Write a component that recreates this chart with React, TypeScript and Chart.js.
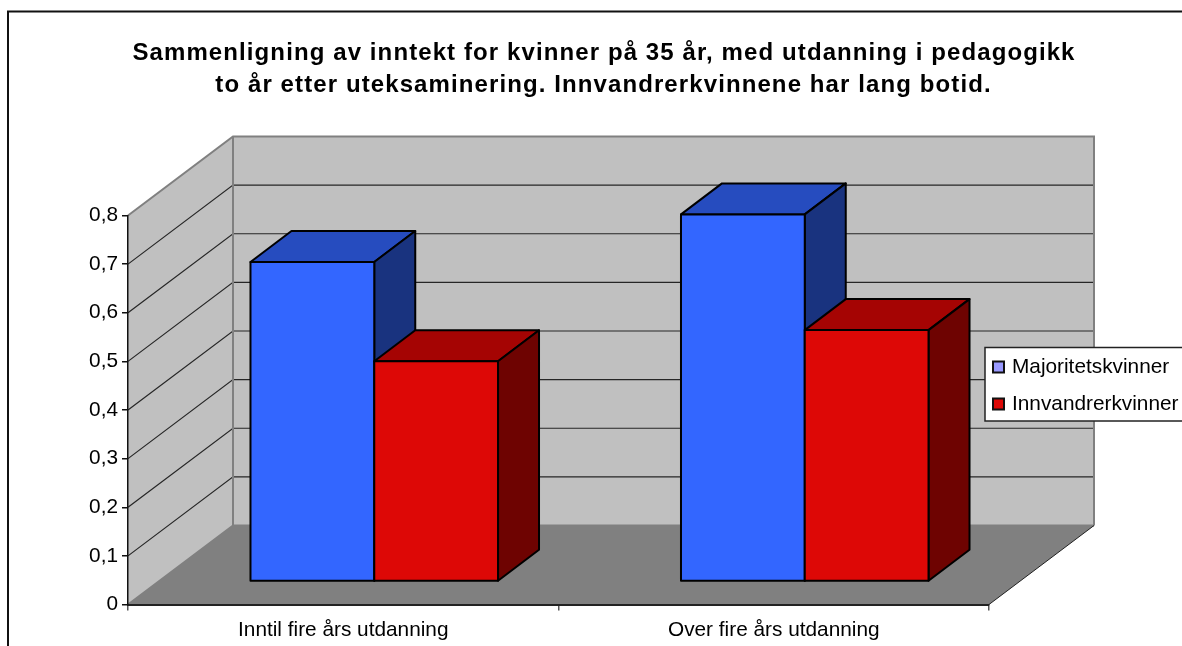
import React, { useEffect, useRef } from "react";
import { Chart, registerables } from "chart.js";

Chart.register(...registerables);

const categories = ["Inntil fire års utdanning", "Over fire års utdanning"];
const seriesNames = ["Majoritetskvinner", "Innvandrerkvinner"];
const majoritet = [0.657, 0.755];
const innvandrer = [0.453, 0.517];
const yTicksMax = 0.8;
const yStep = 0.1;
const titleLines = [
  "Sammenligning av inntekt for kvinner på 35 år, med utdanning i pedagogikk",
  "to år etter uteksaminering. Innvandrerkvinnene har lang botid.",
];

const FONT = '"Liberation Sans", Arial, sans-serif';
const faces = [
  { front: "#3366FF", top: "#264CBF", side: "#19337F", swatch: "#9999FF" },
  { front: "#DD0806", top: "#A50403", side: "#6E0301", swatch: "#DD0806" },
];
const DEPTH = { dx: 105, dy: -79 };
const BAR_NEAR = { dx: 31, dy: -23 };
const BAR_DEPTH = { dx: 41, dy: -31 };

const poly = (ctx: CanvasRenderingContext2D, pts: number[][], fill?: string, stroke?: string, lw = 1) => {
  ctx.beginPath();
  pts.forEach((p, i) => (i ? ctx.lineTo(p[0], p[1]) : ctx.moveTo(p[0], p[1])));
  ctx.closePath();
  if (fill) {
    ctx.fillStyle = fill;
    ctx.fill();
  }
  if (stroke) {
    ctx.strokeStyle = stroke;
    ctx.lineWidth = lw;
    ctx.lineJoin = "round";
    ctx.stroke();
  }
};

const scenePlugin = {
  id: "scene3d",
  beforeDraw(chart: any) {
    const { ctx, chartArea: a, scales } = chart;
    const { dx, dy } = DEPTH;
    ctx.save();
    ctx.fillStyle = "#FFFFFF";
    ctx.fillRect(0, 0, chart.width, chart.height);
    ctx.strokeStyle = "#111111";
    ctx.lineWidth = 2;
    ctx.strokeRect(8, 11.5, 1400, 900);

    // walls
    poly(ctx, [[a.left + dx, a.top + dy], [a.right + dx, a.top + dy], [a.right + dx, a.bottom + dy], [a.left + dx, a.bottom + dy]], "#C0C0C0");
    poly(ctx, [[a.left, a.top], [a.left + dx, a.top + dy], [a.left + dx, a.bottom + dy], [a.left, a.bottom]], "#C0C0C0");
    // grid lines
    ctx.strokeStyle = "#262626";
    ctx.lineWidth = 1.2;
    scales.y.ticks.forEach((t: any) => {
      if (t.value <= 0 || t.value >= yTicksMax) return;
      const y = scales.y.getPixelForValue(t.value);
      ctx.beginPath();
      ctx.moveTo(a.left, y);
      ctx.lineTo(a.left + dx, y + dy);
      ctx.lineTo(a.right + dx, y + dy);
      ctx.stroke();
    });
    // floor
    poly(ctx, [[a.left, a.bottom], [a.left + dx, a.bottom + dy], [a.right + dx, a.bottom + dy], [a.right, a.bottom]], "#808080");
    // wall edges
    ctx.strokeStyle = "#808080";
    ctx.lineWidth = 2;
    ctx.beginPath();
    ctx.moveTo(a.left, a.top);
    ctx.lineTo(a.left + dx, a.top + dy);
    ctx.lineTo(a.right + dx, a.top + dy);
    ctx.lineTo(a.right + dx, a.bottom + dy);
    ctx.moveTo(a.left + dx, a.top + dy);
    ctx.lineTo(a.left + dx, a.bottom + dy);
    ctx.lineTo(a.right + dx, a.bottom + dy);
    ctx.moveTo(a.left, a.bottom);
    ctx.lineTo(a.left + dx, a.bottom + dy);
    ctx.stroke();
    ctx.strokeStyle = "#222222";
    ctx.lineWidth = 1;
    ctx.beginPath();
    ctx.moveTo(a.right, a.bottom);
    ctx.lineTo(a.right + dx, a.bottom + dy);
    ctx.stroke();
    ctx.restore();
  },
  beforeDatasetDraw() {
    return false;
  },
  afterDatasetsDraw(chart: any) {
    const { ctx } = chart;
    ctx.save();
    categories.forEach((_, c) => {
      chart.data.datasets.forEach((ds: any, s: number) => {
        const el = chart.getDatasetMeta(s).data[c];
        const f = faces[s];
        const l = el.x - el.width / 2 + BAR_NEAR.dx;
        const r = el.x + el.width / 2 + BAR_NEAR.dx;
        const t = el.y + BAR_NEAR.dy;
        const b = el.base + BAR_NEAR.dy;
        const { dx, dy } = BAR_DEPTH;
        const K = "#000000";
        poly(ctx, [[l, t], [l + dx, t + dy], [r + dx, t + dy], [r, t]], f.top, K, 2);
        poly(ctx, [[r, t], [r + dx, t + dy], [r + dx, b + dy], [r, b]], f.side, K, 2);
        poly(ctx, [[l, t], [r, t], [r, b], [l, b]], ds.backgroundColor, K, 2);
      });
    });
    ctx.restore();
  },
  afterDraw(chart: any) {
    const { ctx } = chart;
    ctx.save();
    // title
    ctx.fillStyle = "#000000";
    ctx.font = `bold 24px ${FONT}`;
    (ctx as any).letterSpacing = "1.1px";
    ctx.textAlign = "center";
    ctx.textBaseline = "alphabetic";
    ctx.fillText(titleLines[0], 604, 60);
    ctx.fillText(titleLines[1], 603.5, 92);
    (ctx as any).letterSpacing = "0px";
    // legend
    ctx.fillStyle = "#FFFFFF";
    ctx.strokeStyle = "#222222";
    ctx.lineWidth = 1.5;
    ctx.fillRect(985, 347.5, 300, 73.5);
    ctx.strokeRect(985, 347.5, 300, 73.5);
    ctx.font = `20.8px ${FONT}`;
    ctx.textAlign = "left";
    chart.data.datasets.forEach((ds: any, i: number) => {
      const cy = 367 + i * 37;
      ctx.fillStyle = faces[i].swatch;
      ctx.strokeStyle = "#111111";
      ctx.lineWidth = 2;
      ctx.fillRect(993, cy - 5.5, 11, 11);
      ctx.strokeRect(993, cy - 5.5, 11, 11);
      ctx.fillStyle = "#000000";
      ctx.fillText(ds.label, 1012, cy + 6);
    });
    ctx.restore();
  },
};

export default function App() {
  const ref = useRef<HTMLCanvasElement>(null);
  useEffect(() => {
    document.body.style.margin = "0";
    document.body.style.overflow = "hidden";
    const chart = new Chart(ref.current!, {
      type: "bar",
      data: {
        labels: categories,
        datasets: [
          { label: seriesNames[0], data: majoritet, backgroundColor: faces[0].front },
          { label: seriesNames[1], data: innvandrer, backgroundColor: faces[1].front },
        ],
      },
      plugins: [scenePlugin],
      options: {
        responsive: false,
        animation: false,
        events: [],
        layout: { autoPadding: false, padding: { top: 215.5, right: 193, left: 0, bottom: 0 } },
        datasets: { bar: { categoryPercentage: 0.575, barPercentage: 1 } },
        plugins: { legend: { display: false }, title: { display: false }, tooltip: { enabled: false } },
        scales: {
          x: {
            afterFit: (s: any) => { s.height = 41.5; },
            border: { color: "#222222", width: 2 },
            grid: { drawOnChartArea: false, tickLength: 6, color: "#555555", lineWidth: 1.5, offset: true },
            ticks: { color: "#000000", font: { family: FONT, size: 20.8 }, padding: 7, maxRotation: 0 },
          },
          y: {
            min: 0,
            max: yTicksMax,
            afterFit: (s: any) => { s.width = 128; },
            border: { color: "#111111", width: 1.5 },
            grid: { drawOnChartArea: false, tickLength: 6, color: "#111111", lineWidth: 1.5 },
            ticks: {
              stepSize: yStep,
              color: "#000000",
              font: { family: FONT, size: 20.8 },
              padding: 4,
              callback: (v: any) => (v === 0 ? "0" : Number(v).toFixed(1).replace(".", ",")),
            },
          },
        },
      } as any,
    });
    return () => chart.destroy();
  }, []);
  return <canvas ref={ref} width={1182} height={646} style={{ display: "block" }} />;
}
